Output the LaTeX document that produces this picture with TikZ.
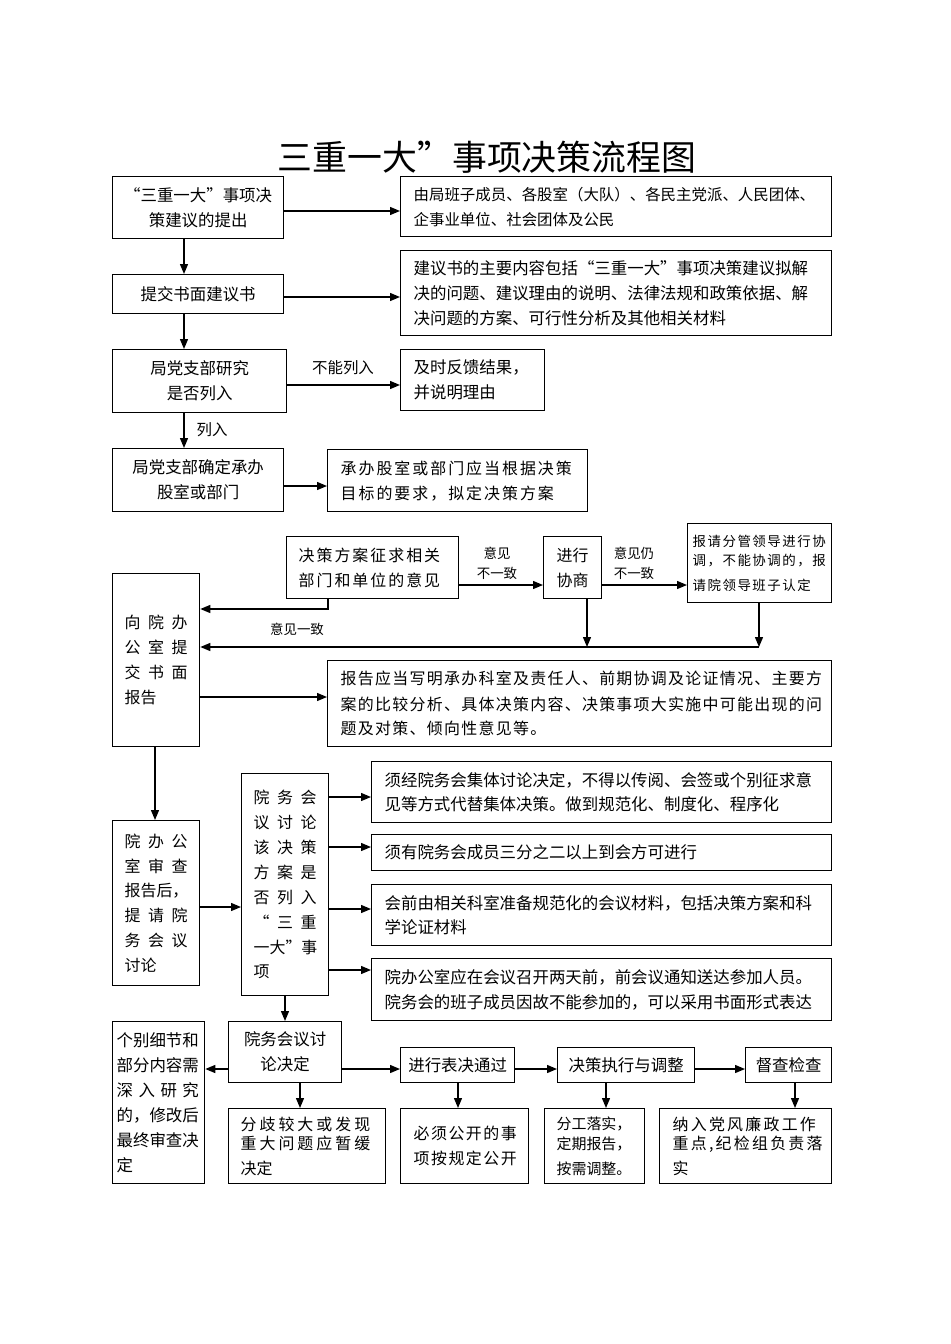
\documentclass[tikz,border=0pt]{standalone}
\usepackage{fontspec}
\setmainfont{Noto Sans CJK SC}
\usetikzlibrary{arrows.meta}
\newdimen\myKern
\def\mySpc#1{\ifx\relax#1\else#1\kern\myKern\expandafter\mySpc\fi}
\newcommand\spx[2]{\myKern=#1\relax\mySpc#2\relax}
\newcommand\myFs[2]{\fontsize{#1}{#2}\selectfont}
\newcommand\mybox[8]{%
  \pgfmathsetmacro\myBW{#4-#2}%
  \pgfmathsetmacro\myBH{#5-#3}%
  \pgfmathsetmacro\myTW{#4-#2-2*#7}%
  \node[box, align=#6, inner xsep=#7bp, minimum width=\myBW bp, minimum height=\myBH bp, text width=\myTW bp] (#1) at (#2,#3) {#8};}
\begin{document}
\begin{tikzpicture}[x=1bp,y=-1bp,
  box/.style={draw, line width=1.3bp, inner ysep=2bp, anchor=north west, font=\myFs{16.5}{25}},
  arr/.style={line width=1.3bp, -{Triangle[length=10bp,width=8bp]}},
  lbl/.style={font=\myFs{13.5}{20}, align=center, inner sep=0pt}]
\fill[white] (0,0) rectangle (950,1344);
\useasboundingbox (0,0) rectangle (950,1344);

\node[font=\myFs{35}{40}, inner sep=0pt] (title) at (487,157) {三重一大”事项决策流程图};

% section 1
\mybox{n1}{112}{176}{283}{238}{center}{2}{“三重一大”事项决\\策建议的提出}
\mybox{n1r}{400}{176}{831}{236}{left}{13}{\myFs{15.5}{25}由局班子成员、各股室（大队）、各民主党派、人民团体、\\企事业单位、社会团体及公民}
\mybox{n2}{112}{274}{283}{313}{center}{2}{提交书面建议书}
\mybox{n2r}{400}{250}{831}{335}{left}{13}{建议书的主要内容包括“三重一大”事项决策建议拟解\\决的问题、建议理由的说明、法律法规和政策依据、解\\决问题的方案、可行性分析及其他相关材料}
\mybox{n3}{112}{349}{286}{412}{center}{2}{局党支部研究\\是否列入}
\mybox{n3r}{400}{349}{544}{410}{left}{13}{及时反馈结果，\\并说明理由}
\mybox{n4}{112}{448}{283}{511}{center}{2}{局党支部确定承办\\股室或部门}
\mybox{n4r}{327}{449}{587}{511}{left}{13}{\myFs{16}{25}\spx{2bp}{承办股室或部门应当根据决策}\\\spx{2bp}{目标的要求，拟定决策方案}}

\coordinate (vx1) at (184,0);
\draw[arr] (n1.south -| vx1) -- (n2.north -| vx1);
\draw[arr] (n2.south -| vx1) -- (n3.north -| vx1);
\draw[arr] (n3.south -| vx1) -- (n4.north -| vx1);
\coordinate (h1) at (0,211); \draw[arr] (n1.east |- h1) -- (n1r.west |- h1);
\coordinate (h2) at (0,297); \draw[arr] (n2.east |- h2) -- (n2r.west |- h2);
\coordinate (h3) at (0,385); \draw[arr] (n3.east |- h3) -- (n3r.west |- h3);
\coordinate (h4) at (0,486); \draw[arr] (n4.east |- h4) -- (n4r.west |- h4);
\node[lbl, font=\myFs{15.5}{18}] (l1) at (343,368) {不能列入};
\node[lbl, font=\myFs{15.5}{18}] (l2) at (212,430) {列入};

% section 2
\mybox{n5}{286}{536}{458}{598}{left}{12}{\myFs{16}{24}\spx{2bp}{决策方案征求相关}\\\spx{2bp}{部门和单位的意见}}
\mybox{n6}{543}{536}{601}{598}{center}{2}{\myFs{16}{26}进行\\协商}
\mybox{n7}{687}{523}{831}{602}{left}{5}{\myFs{13.5}{19.5}\spx{1.5bp}{报请分管领导进行协}\\\spx{1.5bp}{调，不能协调的，报}\\\spx{1.5bp}{请院领导班子认定}}
\mybox{n8}{112}{573}{199}{746}{left}{12}{\myFs{16}{25}\spx{7.5bp}{向院办}\\\spx{7.5bp}{公室提}\\\spx{7.5bp}{交书面}\\报告}
\mybox{n9}{327}{660}{831}{746}{left}{13}{\myFs{16}{25.5}\spx{1.3bp}{报告应当写明承办科室及责任人、前期协调及论证情况、主要方}\\\spx{1.3bp}{案的比较分析、具体决策内容、决策事项大实施中可能出现的问}\\\spx{1.3bp}{题及对策、倾向性意见等。}}

\coordinate (h5) at (0,585);
\draw[arr] (n5.east |- h5) -- (n6.west |- h5);
\draw[arr] (n6.east |- h5) -- (n7.west |- h5);
\node[lbl] (l3) at (497,563) {意见\\不一致};
\node[lbl] (l4) at (634,563) {意见仍\\不一致};
\coordinate (v5) at (328,0); \coordinate (h6) at (0,609);
\draw[arr] (n5.south -| v5) |- (n8.east |- h6);
\coordinate (j1) at (587,647); \coordinate (j2) at (759,647);
\draw[arr] (n6.south -| j1) -- (j1);
\draw[arr] (n7.south -| j2) -- (j2);
\draw[arr] (j2) -- (n8.east |- j2);
\node[lbl] (l5) at (297,629) {意见一致};
\coordinate (h7) at (0,697); \draw[arr] (n8.east |- h7) -- (n9.west |- h7);

% section 3
\mybox{n10}{112}{820}{199}{985}{left}{12}{\myFs{16}{25}\spx{7.5bp}{院办公}\\\spx{7.5bp}{室审查}\\报告后，\\\spx{7.5bp}{提请院}\\\spx{7.5bp}{务会议}\\讨论}
\mybox{n11}{241}{773}{328}{995}{left}{12}{\myFs{16}{25}\spx{7.5bp}{院务会}\\\spx{7.5bp}{议讨论}\\\spx{7.5bp}{该决策}\\\spx{7.5bp}{方案是}\\\spx{7.5bp}{否列入}\\\spx{7.5bp}{“三重}\\一大”事\\项}
\mybox{na}{371}{761}{831}{822}{left}{13}{须经院务会集体讨论决定，不得以传阅、会签或个别征求意\\见等方式代替集体决策。做到规范化、制度化、程序化}
\mybox{nb}{371}{834}{831}{870}{left}{13}{须有院务会成员三分之二以上到会方可进行}
\mybox{nc}{371}{884}{831}{945}{left}{13}{会前由相关科室准备规范化的会议材料，包括决策方案和科\\学论证材料}
\mybox{nd}{371}{958}{831}{1020}{left}{13}{院办公室应在会议召开两天前，前会议通知送达参加人员。\\院务会的班子成员因故不能参加的，可以采用书面形式表达}

\coordinate (vx2) at (155,0); \draw[arr] (n8.south -| vx2) -- (n10.north -| vx2);
\coordinate (h8) at (0,907); \draw[arr] (n10.east |- h8) -- (n11.west |- h8);
\foreach \nn/\yy in {na/797, nb/847, nc/909, nd/970} {
  \coordinate (hh) at (0,\yy);
  \draw[arr] (n11.east |- hh) -- (\nn.west |- hh);
}
\coordinate (vx3) at (285,0); 

% section 4
\mybox{n12}{228}{1021}{341}{1082}{center}{2}{院务会议讨\\论决定}
\mybox{n13}{112}{1021}{204}{1183}{left}{4}{个别细节和\\部分内容需\\\spx{5.5bp}{深入研究}\\的，修改后\\最终审查决\\定}
\mybox{n14}{400}{1047}{514}{1082}{center}{2}{进行表决通过}
\mybox{n15}{557}{1047}{694}{1082}{center}{2}{决策执行与调整}
\mybox{n16}{745}{1047}{831}{1082}{center}{2}{督查检查}
\mybox{n17}{228}{1108}{385}{1183}{left}{12}{\myFs{16}{19.5}\spx{3bp}{分歧较大或发现}\\\spx{3bp}{重大问题应暂缓}\\决定}
\mybox{n18}{400}{1108}{528}{1183}{left}{13}{\myFs{16}{25}\spx{1.5bp}{必须公开的事}\\\spx{1.5bp}{项按规定公开}}
\mybox{n19}{544}{1108}{644}{1183}{left}{12}{\myFs{15}{19.5}分工落实，\\定期报告，\\按需调整。}
\mybox{n20}{659}{1108}{831}{1183}{left}{13}{\myFs{16}{19.5}\spx{2.25bp}{纳入党风廉政工作}\\\spx{2.25bp}{重点,纪检组负责落}\\实}

\draw[arr] (n11.south -| vx3) -- (n12.north -| vx3);
\coordinate (h9) at (0,1069);
\draw[arr] (n12.west |- h9) -- (n13.east |- h9);
\draw[arr] (n12.east |- h9) -- (n14.west |- h9);
\draw[arr] (n14.east |- h9) -- (n15.west |- h9);
\draw[arr] (n15.east |- h9) -- (n16.west |- h9);
\foreach \aa/\bb/\xx in {n12/n17/300, n14/n18/458, n15/n19/606, n16/n20/795} {
  \coordinate (vv) at (\xx,0);
  \draw[arr] (\aa.south -| vv) -- (\bb.north -| vv);
}
\end{tikzpicture}
\end{document}
